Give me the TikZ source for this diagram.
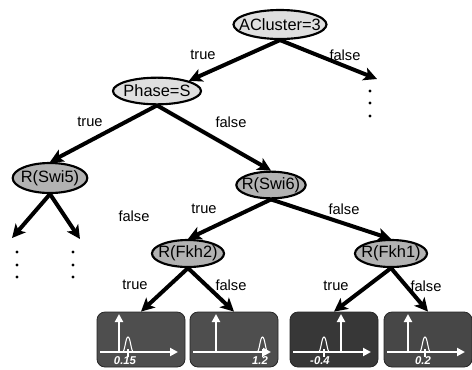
\documentclass[tikz,border=0pt]{standalone}
\usepackage{fontspec}
\setmainfont{Liberation Sans}
\usetikzlibrary{shapes.geometric,arrows.meta}

\definecolor{leafmid}{HTML}{4E4E4E}
\definecolor{leafdark}{HTML}{373737}
\definecolor{leafgray}{HTML}{474747}

\tikzset{
  test/.style={ellipse, draw=black, line width=1.6pt, inner sep=0pt,
    font=\fontsize{12.3}{14}\selectfont},
  branch/.style={line width=3pt, -{Stealth[length=10pt,width=10pt,inset=2.5pt]}},
  lbl/.style={inner sep=0pt, font=\fontsize{11}{13}\selectfont},
  leaf/.style={rectangle, rounded corners=6pt, draw=black!85, line width=0.6pt,
    minimum width=66pt, minimum height=41.25pt},
  axis/.style={white, line width=1.9pt, -{Triangle[length=6pt,width=6pt]}},
}

\begin{document}
\begin{tikzpicture}[x=0.75pt, y=-0.75pt]
\useasboundingbox (0,0) rectangle (472,369);

% test nodes of the tree
\node[test, fill=gray!25, minimum width=69.75pt, minimum height=21.75pt] (A) at (280,24.5) {\makebox[0pt]{ACluster=3}};
\node[test, fill=gray!25, minimum width=66pt, minimum height=20pt] (P) at (157,91) {\makebox[0pt]{Phase=S}};
\node[test, fill=gray!60, minimum width=56pt, minimum height=22.5pt] (S5) at (50,178) {\makebox[0pt]{R(Swi5)}};
\node[test, fill=gray!60, minimum width=52pt, minimum height=20pt] (S6) at (271,185) {\makebox[0pt]{R(Swi6)}};
\node[test, fill=gray!60, minimum width=54pt, minimum height=20.25pt] (F2) at (188,253.5) {\makebox[0pt]{R(Fkh2)}};
\node[test, fill=gray!60, minimum width=54pt, minimum height=20.25pt] (F1) at (391,253.5) {\makebox[0pt]{R(Fkh1)}};

% leaves with their distributions
\foreach \n/\cx/\col/\vx/\bx/\val/\lx in {1/141/leafmid/119/128/0.15/125, 2/234/leafmid/216/262.5/1.2/260,
    3/334/leafdark/341/324/-0.4/320, 4/428/leafgray/408/425/0.2/423}{
  \node[leaf, fill=\col] (b\n) at (\cx,339.5) {};
  \draw[axis] (\cx-41,352) -- (\cx+37,352);
  \draw[axis] (\vx,352) -- (\vx,314);
  \draw[white, line width=0.8pt] (\bx-5.5,352) .. controls (\bx-3,352) and (\bx-2.5,337) .. (\bx,337)
    .. controls (\bx+2.5,337) and (\bx+3,352) .. (\bx+5.5,352);
  \draw[white, line width=0.8pt] (\bx,349) -- (\bx,357);
  \node[white, inner sep=0pt, font=\fontsize{8.5}{9}\bfseries\itshape] (v\n) at (\lx,361) {\val};
}

% open ends
\coordinate (Aout) at (377,79);
\coordinate (S5l) at (12,238);
\coordinate (S5r) at (80,239);
\foreach \y in {91,103,116} \fill (370,\y) circle (1.6);
\foreach \y in {252,265,277} {
  \fill (17,\y) circle (1.6);
  \fill (73,\y) circle (1.6);
}

% branches
\draw[branch] (A.south) -- (P.north east);
\draw[branch] (A.south) -- (Aout);
\draw[branch] (P.south) -- (S5.north);
\draw[branch] (P.south) -- (S6.north);
\draw[branch] (S5.south) -- (S5l);
\draw[branch] (S5.south) -- (S5r);
\draw[branch] (S6.south) -- (F2.north);
\draw[branch] (S6.south) -- (F1.north);
\draw[branch] (F2.south) -- (b1.north);
\draw[branch] (F2.south) -- (b2.north);
\draw[branch] (F1.south) -- (b3.north);
\draw[branch] (F1.south) -- (b4.north);

% branch labels
\node[lbl] (tA) at (203,55) {true};
\node[lbl] (fA) at (345,55) {false};
\node[lbl] (tP) at (90,122) {true};
\node[lbl] (fP) at (231,122) {false};
\node[lbl] (fX) at (134,216) {false};
\node[lbl] (tS) at (204,209) {true};
\node[lbl] (fS) at (344,209) {false};
\node[lbl] (tF2) at (135,285) {true};
\node[lbl] (fF2) at (231,285) {false};
\node[lbl] (tF1) at (336,286) {true};
\node[lbl] (fF1) at (426,286) {false};

\end{tikzpicture}
\end{document}
